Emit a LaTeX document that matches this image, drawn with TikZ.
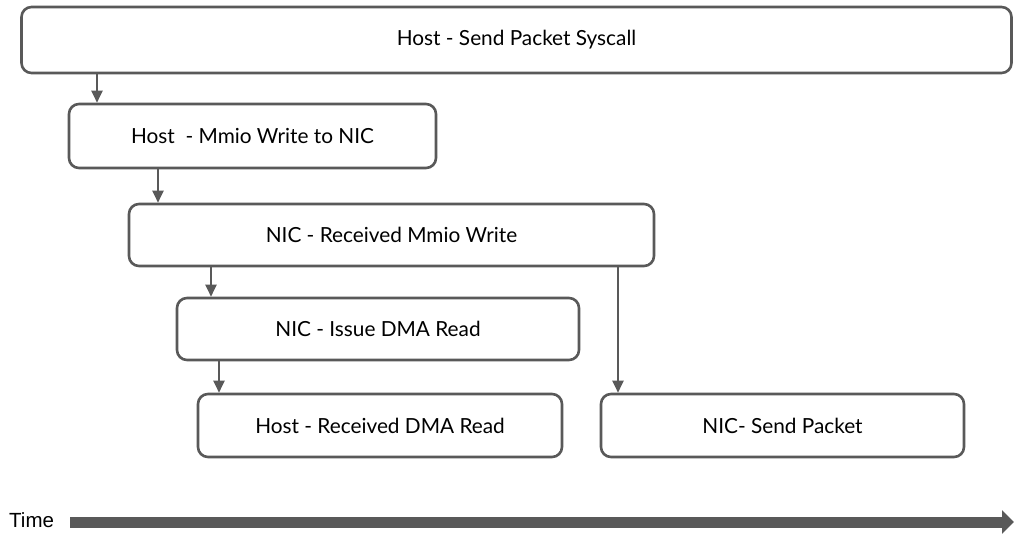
\documentclass[tikz,border=0pt]{standalone}
\usepackage{fontspec}
\setmainfont{Lato}
\newfontfamily\arialfont{Liberation Sans}
\usetikzlibrary{arrows.meta}
\definecolor{ln}{HTML}{595959}
\tikzset{
  ev/.style={draw=ln, line width=2.6pt, rounded corners=10pt, fill=white, font=\fontsize{20.8}{24}\selectfont, text=black},
  con/.style={draw=ln, line width=2pt, -{Triangle[length=12pt,width=11pt]}}
}
\begin{document}
\begin{tikzpicture}[x=1pt,y=-1pt]
\useasboundingbox (0,0) rectangle (1014,535);
\node[ev, minimum width=990pt, minimum height=66pt] (sys) at (516.5,40) {Host - Send Packet Syscall};
\node[ev, minimum width=367pt, minimum height=64pt] (mmio) at (252.5,136) {Host\ \ - Mmio Write to NIC};
\node[ev, minimum width=525pt, minimum height=62pt] (recv) at (391.5,235) {NIC - Received Mmio Write};
\node[ev, minimum width=402pt, minimum height=62pt] (dma) at (378,329) {NIC - Issue DMA Read};
\node[ev, minimum width=364pt, minimum height=63pt] (hrd) at (380,425.5) {Host - Received DMA Read};
\node[ev, minimum width=363pt, minimum height=63pt] (send) at (782.5,425.5) {NIC- Send Packet};
\draw[con] (sys.south -| 97,0) -- (mmio.north -| 97,0);
\draw[con] (mmio.south -| 158,0) -- (recv.north -| 158,0);
\draw[con] (recv.south -| 211,0) -- (dma.north -| 211,0);
\draw[con] (dma.south -| 219,0) -- (hrd.north -| 219,0);
\draw[con] (recv.south -| 618,0) -- (send.north -| 618,0);
\node[font=\arialfont\fontsize{20.5}{24}\selectfont, anchor=west, inner sep=0pt] (time) at (9,520) {Time};
\coordinate (tend) at (1014,522);
\draw[ln, line width=11pt, -{Triangle[length=12pt,width=23pt]}] (70,522) -- (tend);
\end{tikzpicture}
\end{document}
